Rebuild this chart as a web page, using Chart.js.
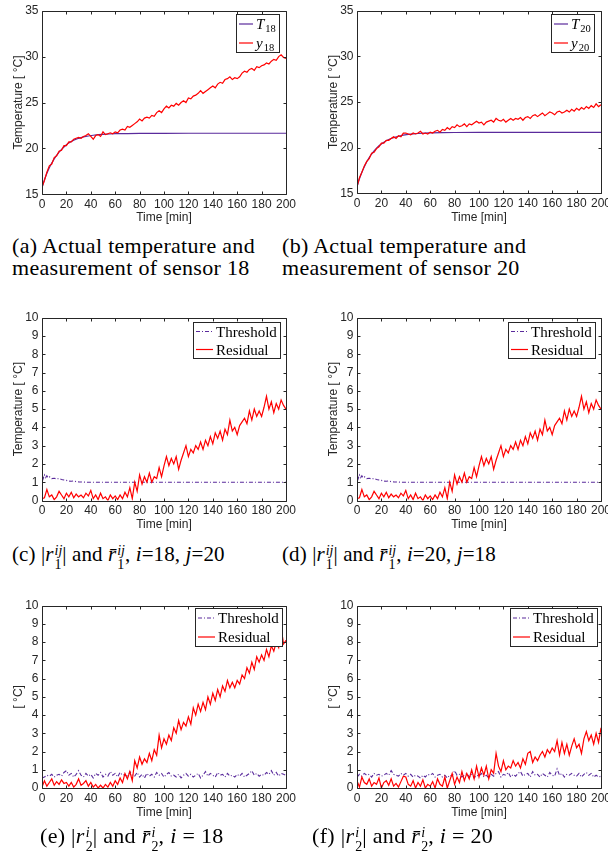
<!DOCTYPE html>
<html><head><meta charset="utf-8">
<script src="https://cdn.jsdelivr.net/npm/chart.js@4.4.1/dist/chart.umd.min.js"></script>
<style>
html,body{margin:0;padding:0;background:#fff;width:608px;height:860px;overflow:hidden;position:relative}
.pan{position:absolute;width:300px;height:230px}
.cap{position:absolute;font-family:"Liberation Serif",serif;font-size:22px;line-height:22px;letter-spacing:0.3px;white-space:nowrap;color:#000}
.cap.m{font-size:21px;letter-spacing:0.1px}
.cap.m2{font-size:22px;letter-spacing:0.3px}
.ss{display:inline-block;vertical-align:-8px;font-size:14px;line-height:14px;margin-left:1px;text-align:left;letter-spacing:0}
.ss>span{display:block}
</style></head><body>
<div class="pan" style="left:0;top:0"><canvas id="ca" width="300" height="230"></canvas></div>
<div class="pan" style="left:315px;top:0"><canvas id="cb" width="300" height="230"></canvas></div>
<div class="pan" style="left:0;top:307px"><canvas id="cc" width="300" height="230"></canvas></div>
<div class="pan" style="left:315px;top:307px"><canvas id="cd" width="300" height="230"></canvas></div>
<div class="pan" style="left:0;top:595px"><canvas id="ce" width="300" height="230"></canvas></div>
<div class="pan" style="left:315px;top:595px"><canvas id="cf" width="300" height="230"></canvas></div>

<div class="cap" style="left:12px;top:235px">(a) Actual temperature and<br>measurement of sensor 18</div>
<div class="cap" style="left:282px;top:235px">(b) Actual temperature and<br>measurement of sensor 20</div>
<div class="cap m" style="left:12px;top:543px">(c) |<i>r</i><span class="ss"><span><i>ij</i></span><span>1</span></span>| and <i>r&#772;</i><span class="ss"><span><i>ij</i></span><span>1</span></span>, <i>i</i>=18, <i>j</i>=20</div>
<div class="cap m" style="left:282px;top:543px">(d) |<i>r</i><span class="ss"><span><i>ij</i></span><span>1</span></span>| and <i>r&#772;</i><span class="ss"><span><i>ij</i></span><span>1</span></span>, <i>i</i>=20, <i>j</i>=18</div>
<div class="cap m2" style="left:40px;top:825px">(e) |<i>r</i><span class="ss"><span><i>i</i></span><span>2</span></span>| and <i>r&#772;</i><span class="ss"><span><i>i</i></span><span>2</span></span>, <i>i</i> = 18</div>
<div class="cap m2" style="left:312px;top:825px">(f) |<i>r</i><span class="ss"><span><i>i</i></span><span>2</span></span>| and <i>r&#772;</i><span class="ss"><span><i>i</i></span><span>2</span></span>, <i>i</i> = 20</div>

<script>
// ---------- data ----------
const time = [0,2,4,6,8,10,12,14,16,18,20,22,24,26,28,30,32,34,36,38,40,42,44,46,48,50,52,54,56,58,
60,62,64,66,68,70,72,74,76,78,80,82,84,86,88,90,92,94,96,98,100,102,104,106,108,110,112,114,116,118,
120,122,124,126,128,130,132,134,136,138,140,142,144,146,148,150,152,154,156,158,160,162,164,166,168,170,
172,174,176,178,180,182,184,186,188,190,192,194,196,198,200];

const tSmooth = [0,2,4,6,8,10,12,14,16,18,20,22,24,26,28,30,34,38,42,46,50,55,60,70,80,100,120,140,160,180,200];
const T18 = [15.7,16.6,17.3,17.9,18.4,18.85,19.25,19.6,19.9,20.15,20.4,20.6,20.75,20.9,21.0,21.1,21.25,21.35,21.43,21.49,21.53,21.57,21.6,21.62,21.63,21.64,21.65,21.65,21.65,21.65,21.65];
const T20 = [15.7,16.6,17.3,17.9,18.45,18.9,19.3,19.65,19.95,20.2,20.4,20.6,20.75,20.9,21.0,21.1,21.25,21.37,21.45,21.5,21.55,21.6,21.62,21.65,21.66,21.67,21.67,21.67,21.67,21.67,21.67];

const y18 = [15.8,16.5,17.4,18.1,18.3,19.0,19.2,19.7,19.8,20.3,
20.3,20.7,20.7,21.0,21.1,21.2,21.1,21.3,21.4,21.6,
21.3,21.0,21.4,21.5,21.3,21.8,21.5,21.6,21.7,21.6,
21.8,21.7,22.0,22.1,22.0,22.4,22.3,22.5,22.7,22.9,
23.2,23.0,23.3,23.4,23.3,23.6,23.5,23.9,24.1,23.9,
24.3,24.6,24.4,24.7,24.6,24.9,24.7,25.0,25.2,25.0,
25.5,25.4,25.7,25.8,26.0,26.3,26.0,26.2,26.4,26.6,
26.8,26.6,27.0,27.2,27.1,27.5,27.6,27.8,27.5,27.7,
27.6,27.8,28.2,28.4,28.3,28.6,28.7,28.5,28.9,28.8,
29.0,29.1,29.3,29.2,29.5,29.7,29.6,30.0,30.2,29.9,
29.8];

const y20 = [15.7,16.7,17.3,18.0,18.5,18.8,19.4,19.5,19.9,20.1,
20.5,20.5,20.8,20.8,21.0,21.2,21.0,21.3,21.2,21.6,
21.6,21.5,21.4,21.6,21.5,21.6,21.8,21.5,21.6,21.5,
21.7,21.6,21.8,21.9,21.7,22.0,21.9,22.2,22.0,22.3,
22.2,22.5,22.3,22.4,22.6,22.3,22.6,22.5,22.7,22.9,
22.7,22.8,22.5,22.8,22.9,23.0,22.8,23.2,23.0,22.9,
23.1,22.8,23.0,23.2,23.0,23.2,23.1,23.3,23.0,23.3,
23.4,23.2,23.5,23.6,23.4,23.6,23.8,23.5,23.7,23.9,
23.8,23.6,23.9,24.0,23.8,23.9,24.1,23.9,24.2,24.0,
24.3,24.1,24.4,24.2,24.5,24.3,24.6,24.4,24.8,24.5,
24.7];

const tThr1 = [0,0.5,1,2,3,4,5,6,8,10,12,14,16,18,20,22,24,26,28,30,33,36,40,50,60,80,100,120,140,160,180,200];
const thr1 = [0,1.4,1.2,1.4,1.25,1.35,1.25,1.3,1.2,1.22,1.18,1.2,1.15,1.12,1.1,1.06,1.05,1.07,1.03,1.02,1.01,1.0,1.0,1.0,1.0,1.0,1.0,1.0,1.0,1.0,1.0,1.0];

const res1 = [0.1,0.15,0.6,0.2,0.3,0.05,0.2,0.5,0.3,0.1,
0.4,0.2,0.45,0.15,0.35,0.2,0.3,0.15,0.4,0.25,
0.55,0.1,0.3,0.05,0.4,0.1,0.2,0.0,0.3,0.1,
0.25,0.05,0.3,0.1,0.45,0.2,0.7,0.1,1.0,0.5,
1.4,0.9,1.3,1.0,1.5,1.0,1.3,1.2,1.8,1.3,
1.9,2.4,1.9,2.3,2.0,2.4,1.7,2.2,2.6,3.0,
2.4,2.8,2.6,3.0,2.8,3.2,2.8,3.3,3.0,3.5,
3.1,3.7,3.4,3.8,3.3,3.9,3.6,4.4,3.8,4.0,
3.6,4.1,4.3,4.5,4.2,4.9,4.4,5.0,4.6,4.9,
4.6,5.1,5.7,5.0,5.4,4.8,5.3,5.0,5.5,5.2,
5.0];

const res2_18 = [0.05,0.4,0.1,0.3,0.5,0.15,0.35,0.2,0.45,0.25,
0.3,0.1,0.3,0.05,0.2,0.5,0.15,0.25,0.4,0.1,
0.3,0.05,0.2,0.0,0.15,0.0,0.2,0.05,0.3,0.1,
0.4,0.2,0.55,0.3,0.8,0.5,0.9,0.4,1.5,1.1,
1.7,1.3,1.6,1.4,1.9,1.5,2.1,1.8,2.9,2.2,
2.7,2.4,2.9,2.6,3.3,3.0,3.7,3.2,3.6,3.4,
3.9,3.5,4.4,4.0,4.6,4.2,4.7,4.3,5.0,4.6,
5.2,4.8,5.4,5.0,5.6,5.3,5.9,5.5,5.8,5.5,
5.9,5.7,6.2,6.0,6.6,6.3,6.9,6.5,7.2,6.9,
7.3,7.0,7.6,7.2,7.8,7.5,8.0,7.7,8.8,7.9,
8.1];

const thr2_18 = [0.55,0.6,0.7,0.65,0.75,0.6,0.7,0.75,0.65,0.85,
0.95,0.7,0.8,0.6,0.75,0.95,0.7,0.6,0.8,0.65,
0.75,0.55,0.8,0.7,0.85,0.6,0.75,0.65,0.9,0.7,
0.8,0.6,0.85,0.7,0.75,0.6,0.9,0.7,0.65,0.85,
0.6,0.75,0.55,0.8,0.65,0.75,0.6,0.85,0.7,0.8,
0.6,0.75,0.85,0.65,0.7,0.6,0.75,0.55,0.7,0.8,
0.65,0.75,0.6,0.7,0.8,0.55,0.7,0.9,0.65,0.8,
0.7,0.6,0.85,0.7,0.75,0.6,0.8,0.65,0.7,0.6,
0.75,0.65,0.8,0.6,0.7,0.8,0.95,0.7,0.8,0.65,
0.75,0.7,0.85,0.75,0.95,0.7,0.85,0.65,0.8,0.75,
0.7];

const res2_20 = [0.4,0.05,0.6,0.3,0.2,0.5,0.1,0.3,0.2,0.55,
0.0,0.3,0.4,0.15,0.5,0.1,0.25,0.05,0.35,0.65,
0.6,0.2,0.1,0.4,0.0,0.3,0.1,0.45,0.0,0.2,
0.1,0.35,0.0,0.5,0.2,0.1,0.6,0.0,0.4,0.8,
0.2,0.6,0.3,0.9,0.4,0.8,0.5,1.0,0.5,1.2,
0.6,1.1,0.7,1.2,0.5,1.0,0.8,1.9,1.2,0.9,
1.5,1.0,1.2,1.1,1.5,1.2,1.4,1.1,1.6,1.3,
1.9,2.0,1.4,1.7,1.5,1.8,2.0,1.7,2.1,1.9,
2.2,2.0,2.6,1.8,2.5,1.9,2.4,1.8,2.3,2.7,
2.2,2.4,1.9,2.7,3.1,2.6,2.9,2.4,3.0,2.5,
3.3];

const thr2_20 = [0.6,0.75,0.65,0.8,0.7,0.75,0.6,0.8,0.7,0.75,
0.65,0.7,0.8,0.7,0.95,0.75,0.7,0.65,0.8,0.7,
0.8,0.65,0.75,0.6,0.7,0.65,0.55,0.7,0.6,0.75,
0.7,0.8,0.6,0.7,0.75,0.6,0.7,0.55,0.7,0.65,
0.95,0.7,0.75,0.6,0.7,0.8,0.6,0.75,0.55,0.7,
0.65,0.8,0.6,0.7,0.55,0.75,0.65,0.8,0.9,0.6,
0.75,0.7,0.85,0.6,0.75,0.65,0.8,0.9,0.65,0.75,
0.8,0.6,0.9,0.7,0.75,0.6,0.8,0.7,0.6,0.85,
0.7,0.65,1.05,0.7,0.8,0.6,0.75,0.7,0.8,0.7,
0.65,0.8,0.6,0.75,0.85,0.7,0.8,0.6,0.7,0.6,
0.65];

const xTicks = [0,20,40,60,80,100,120,140,160,180,200];
const yTicksTemp = [15,20,25,30,35];
const yTicksRes = [0,1,2,3,4,5,6,7,8,9,10];

// ---------- style ----------
const AX = '#262626';
const RED = '#ff0000';
const PURPLE = '#5a2b9c';
const SANS = '"Liberation Sans", Arial, sans-serif';
const SERIF = '"Liberation Serif", "Times New Roman", serif';
const pairs = (xs, ys) => xs.map((x, i) => ({x: x, y: ys[i]}));

const framePlugin = {
  id: 'frame',
  afterDraw(chart) {
    const {ctx, chartArea: a, scales: {x, y}} = chart;
    ctx.save();
    ctx.strokeStyle = AX; ctx.lineWidth = 1;
    const L = Math.round(a.left) + 0.5, R = Math.round(a.right) + 0.5;
    const T = Math.round(a.top) + 0.5, B = Math.round(a.bottom) + 0.5;
    ctx.beginPath();
    ctx.rect(L, T, R - L, B - T);
    x.ticks.forEach(t => {
      const p = Math.round(x.getPixelForValue(t.value)) + 0.5;
      ctx.moveTo(p, B); ctx.lineTo(p, B - 3);
      ctx.moveTo(p, T); ctx.lineTo(p, T + 3);
    });
    y.ticks.forEach(t => {
      const p = Math.round(y.getPixelForValue(t.value)) + 0.5;
      ctx.moveTo(L, p); ctx.lineTo(L + 3, p);
      ctx.moveTo(R, p); ctx.lineTo(R - 3, p);
    });
    ctx.stroke();
    ctx.restore();
  }
};

function labelParts(label) {
  const i = label.indexOf('_');
  if (i < 0) return {main: label, sub: null};
  return {main: label.slice(0, i), sub: label.slice(i + 1)};
}
function measureLabel(ctx, label) {
  const p = labelParts(label);
  if (!p.sub) { ctx.font = '15px ' + SERIF; return ctx.measureText(p.main).width; }
  ctx.font = 'italic 15px ' + SERIF;
  let w = ctx.measureText(p.main).width + 1;
  ctx.font = '10.5px ' + SERIF;
  return w + ctx.measureText(p.sub).width;
}
function drawLabel(ctx, label, x, cy) {
  const p = labelParts(label);
  ctx.fillStyle = '#000';
  ctx.textBaseline = 'alphabetic';
  ctx.textAlign = 'left';
  const base = cy + 5;
  if (!p.sub) { ctx.font = '15px ' + SERIF; ctx.fillText(p.main, x, base); return; }
  ctx.font = 'italic 15px ' + SERIF;
  ctx.fillText(p.main, x, base);
  const w = ctx.measureText(p.main).width + 1;
  ctx.font = '10.5px ' + SERIF;
  ctx.fillText(p.sub, x + w, base + 2.5);
}

const legendPlugin = {
  id: 'boxLegend',
  afterDraw(chart, args, o) {
    if (!o || !o.show) return;
    const ctx = chart.ctx, a = chart.chartArea;
    const ds = chart.data.datasets;
    const rowH = o.rowH, sample = o.sample;
    let tw = 0;
    ds.forEach(d => { tw = Math.max(tw, measureLabel(ctx, d.label)); });
    const w = Math.round(3 + sample + 3 + tw + 3);
    const h = Math.round(rowH * ds.length);
    const x1 = Math.round(a.right - o.inset);
    const x0 = x1 - w;
    const y0 = Math.round(a.top + o.top);
    ctx.save();
    ctx.fillStyle = '#fff';
    ctx.fillRect(x0, y0, w, h);
    ctx.strokeStyle = AX; ctx.lineWidth = 1;
    ctx.strokeRect(x0 + 0.5, y0 + 0.5, w, h);
    ds.forEach((d, i) => {
      const cy = y0 + rowH * (i + 0.5) + 0.5;
      ctx.strokeStyle = d.borderColor; ctx.lineWidth = d.borderWidth;
      ctx.setLineDash(d.borderDash || []);
      ctx.beginPath(); ctx.moveTo(x0 + 3, cy); ctx.lineTo(x0 + 3 + sample, cy); ctx.stroke();
      ctx.setLineDash([]);
      drawLabel(ctx, d.label, x0 + 3 + sample + 3, cy);
    });
    ctx.restore();
  }
};

function makePanel(id, cfg) {
  new Chart(document.getElementById(id), {
    type: 'line',
    data: {datasets: cfg.datasets},
    plugins: [framePlugin, legendPlugin],
    options: {
      responsive: false, animation: false, events: [],
      layout: {padding: {left: 0, top: cfg.padTop, right: 14, bottom: 0}},
      elements: {point: {radius: 0}, line: {tension: 0}},
      plugins: {
        legend: {display: false}, tooltip: {enabled: false},
        boxLegend: cfg.legend
      },
      scales: {
        x: {
          type: 'linear', min: 0, max: 200,
          afterBuildTicks: s => { s.ticks = xTicks.map(v => ({value: v})); },
          afterFit: s => { s.height = cfg.xH; },
          grid: {display: false, drawTicks: false}, border: {display: false},
          ticks: {autoSkip: false, maxRotation: 0, padding: 3, color: AX, font: {family: SANS, size: 12}},
          title: {display: true, text: 'Time [min]', color: AX, font: {family: SANS, size: 12, lineHeight: 1.2}, padding: {top: 0, bottom: 4.8}}
        },
        y: {
          type: 'linear', min: cfg.yMin, max: cfg.yMax,
          afterBuildTicks: s => { s.ticks = cfg.yTicks.map(v => ({value: v})); },
          afterFit: s => { s.width = 42; },
          grid: {display: false, drawTicks: false}, border: {display: false},
          ticks: {autoSkip: false, padding: 3.5, color: AX, font: {family: SANS, size: 12}},
          title: {display: true, text: cfg.yTitle, color: AX, font: {family: SANS, size: 12, lineHeight: 1.2}, padding: {top: 11.3, bottom: 0}}
        }
      }
    }
  });
}

function tempSets(T, yv, n) {
  return [
    {label: 'T_' + n, data: pairs(tSmooth, T), borderColor: PURPLE, borderWidth: 1.2, order: 1},
    {label: 'y_' + n, data: pairs(time, yv), borderColor: RED, borderWidth: 1.2, order: 0}
  ];
}
function resSets(tx, thr, res) {
  return [
    {label: 'Threshold', data: pairs(tx, thr), borderColor: PURPLE, borderWidth: 1.1, borderDash: [4, 2, 1, 2], order: 1},
    {label: 'Residual', data: pairs(time, res), borderColor: RED, borderWidth: 1.2, order: 0}
  ];
}

const legT = {show: true, rowH: 19, sample: 14, inset: 7, top: 3.5};
const legR = {show: true, rowH: 18, sample: 17, inset: 6, top: 4};
const legE = {show: true, rowH: 19, sample: 17, inset: 4, top: 2};

makePanel('ca', {datasets: tempSets(T18, y18, '18'), padTop: 8.7, xH: 35.7, yMin: 15, yMax: 35, yTicks: yTicksTemp, yTitle: 'Temperature [ °C]', legend: legT});
makePanel('cb', {datasets: tempSets(T20, y20, '20'), padTop: 7.3, xH: 36.7, yMin: 15, yMax: 35, yTicks: yTicksTemp, yTitle: 'Temperature [ °C]', legend: legT});
makePanel('cc', {datasets: resSets(tThr1, thr1, res1), padTop: 8, xH: 36.5, yMin: 0, yMax: 10, yTicks: yTicksRes, yTitle: 'Temperature [ °C]', legend: legR});
makePanel('cd', {datasets: resSets(tThr1, thr1, res1), padTop: 8, xH: 36.5, yMin: 0, yMax: 10, yTicks: yTicksRes, yTitle: 'Temperature [ °C]', legend: legR});
makePanel('ce', {datasets: resSets(time, thr2_18, res2_18), padTop: 8, xH: 37, yMin: 0, yMax: 10, yTicks: yTicksRes, yTitle: '[ °C]', legend: legE});
makePanel('cf', {datasets: resSets(time, thr2_20, res2_20), padTop: 8, xH: 37, yMin: 0, yMax: 10, yTicks: yTicksRes, yTitle: '[ °C]', legend: legE});
</script>
</body></html>
